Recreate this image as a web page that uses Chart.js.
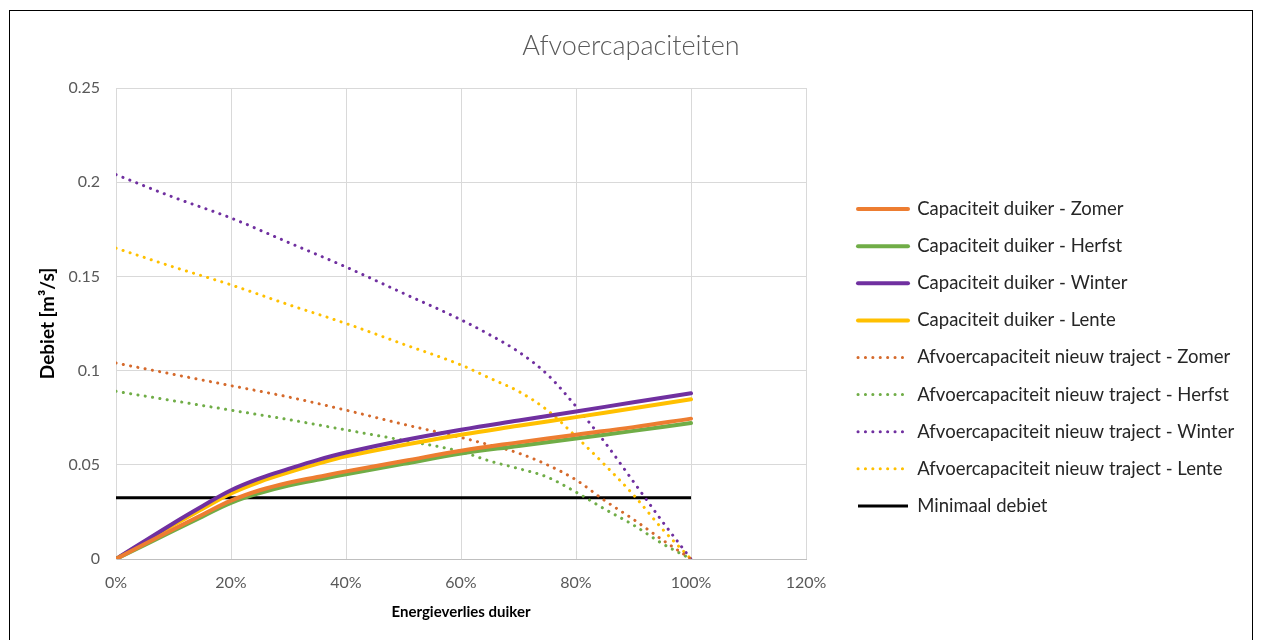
<!DOCTYPE html>
<html>
<head>
<meta charset="utf-8">
<script src="https://cdn.jsdelivr.net/npm/chart.js@4.4.0/dist/chart.umd.min.js"></script>
<style>
  html, body { margin: 0; padding: 0; background: #ffffff; }
  #frame {
    position: absolute;
    left: 9px;
    top: 10px;
    border: 1px solid #000000;
    width: 1242px;
    height: 640px;
  }
  canvas { display: block; }
</style>
</head>
<body>
<div id="frame">
  <canvas id="chart" width="1242" height="630"></canvas>
</div>
<script>
// Energieverlies duiker (%) for the culvert capacity curves
const lossCapacity = [0, 10, 15, 20, 25, 30, 35, 40, 50, 60, 70, 80, 90, 100];
const capZomer  = [0, 0.0158, 0.0235, 0.031, 0.0365, 0.0405, 0.0435, 0.0465, 0.052, 0.0575, 0.0619, 0.066, 0.070, 0.0745];
const capHerfst = [0, 0.015, 0.0225, 0.0298, 0.035, 0.039, 0.042, 0.045, 0.0505, 0.056, 0.060, 0.064, 0.068, 0.0722];
const capWinter = [0, 0.019, 0.028, 0.0365, 0.0428, 0.0478, 0.0525, 0.0565, 0.063, 0.0686, 0.0735, 0.0783, 0.0832, 0.088];
const capLente  = [0, 0.018, 0.0265, 0.0348, 0.041, 0.046, 0.0505, 0.0545, 0.0605, 0.066, 0.0707, 0.0753, 0.080, 0.0848];

// Energieverlies (%) for the new trajectory discharge curves
const lossTraject = [0, 10, 20, 30, 40, 50, 60, 65, 70, 75, 80, 85, 90, 95, 100];
const trajZomer  = [0.104, 0.098, 0.092, 0.086, 0.079, 0.0715, 0.0645, 0.0605, 0.0562, 0.050, 0.042, 0.031, 0.021, 0.0102, 0];
const trajHerfst = [0.089, 0.084, 0.079, 0.074, 0.0685, 0.063, 0.057, 0.052, 0.048, 0.0435, 0.0355, 0.0265, 0.018, 0.0082, 0];
const trajWinter = [0.204, 0.192, 0.181, 0.168, 0.155, 0.141, 0.127, 0.119, 0.110, 0.098, 0.081, 0.062, 0.041, 0.020, 0];
const trajLente  = [0.165, 0.155, 0.1455, 0.135, 0.125, 0.114, 0.103, 0.096, 0.089, 0.079, 0.065, 0.050, 0.034, 0.016, 0];

const lossMinimum = [0, 100];
const minDebiet = [0.0325, 0.0325];

const xTicks = [0, 20, 40, 60, 80, 100, 120];
const yTicks = [0, 0.05, 0.1, 0.15, 0.2, 0.25];

const FONT = 'Lato, "Liberation Sans", sans-serif';
const GREY = '#595959';

function points(xs, ys) {
    return xs.map((x, i) => ({ x: x, y: ys[i] }));
}

function solid(label, xs, ys, color) {
    return {
        label: label,
        data: points(xs, ys),
        borderColor: color,
        backgroundColor: color,
        borderWidth: 4,
        borderCapStyle: 'round',
        pointRadius: 0,
        tension: 0.4,
        fill: false
    };
}

function dotted(label, xs, ys, color) {
    return {
        label: label,
        data: points(xs, ys),
        borderColor: color,
        backgroundColor: color,
        borderWidth: 3,
        borderCapStyle: 'round',
        borderDash: [0.1, 7.3],
        pointRadius: 0,
        cubicInterpolationMode: 'monotone',
        fill: false
    };
}

// Fixes the legend block so the plot area and legend sit where the original has them
const legendPlacement = {
    id: 'legendPlacement',
    beforeLayout(chart) {
        const lg = chart.legend;
        if (lg && !lg._fixedFit) {
            const fit = lg.fit.bind(lg);
            lg.fit = function () {
                fit();
                this.width = 1242 - 796;
            };
            lg._fixedFit = true;
        }
    },
    afterLayout(chart) {
        const lg = chart.legend;
        if (!lg) return;
        lg.left = 829.4;
        lg.top = 111;
        lg.bottom = 582;
    }
};

const canvas = document.getElementById('chart');
canvas.chart = new Chart(canvas, {
    type: 'line',
    data: {
        datasets: [
            solid('Capaciteit duiker - Zomer', lossCapacity, capZomer, '#ED7D31'),
            solid('Capaciteit duiker - Herfst', lossCapacity, capHerfst, '#70AD47'),
            solid('Capaciteit duiker - Winter', lossCapacity, capWinter, '#7030A0'),
            solid('Capaciteit duiker - Lente', lossCapacity, capLente, '#FFC000'),
            dotted('Afvoercapaciteit nieuw traject - Zomer', lossTraject, trajZomer, '#D56A2C'),
            dotted('Afvoercapaciteit nieuw traject - Herfst', lossTraject, trajHerfst, '#70AD47'),
            dotted('Afvoercapaciteit nieuw traject - Winter', lossTraject, trajWinter, '#7030A0'),
            dotted('Afvoercapaciteit nieuw traject - Lente', lossTraject, trajLente, '#FFC000'),
            {
                label: 'Minimaal debiet',
                data: points(lossMinimum, minDebiet),
                borderColor: '#000000',
                backgroundColor: '#000000',
                borderWidth: 3,
                pointRadius: 0,
                fill: false
            }
        ]
    },
    options: {
        responsive: false,
        animation: false,
        layout: { padding: 0 },
        plugins: {
            title: {
                display: true,
                text: 'Afvoercapaciteiten',
                color: GREY,
                font: { family: FONT, size: 27, weight: '300' },
                padding: { top: 19, bottom: 25.6 }
            },
            legend: {
                display: true,
                position: 'right',
                labels: {
                    usePointStyle: true,
                    pointStyle: 'line',
                    pointStyleWidth: 50,
                    padding: 18.6,
                    color: '#262626',
                    font: { family: FONT, size: 18.5 },
                    generateLabels(chart) {
                        const items = Chart.defaults.plugins.legend.labels.generateLabels(chart);
                        items.forEach(item => {
                            const ds = chart.data.datasets[item.datasetIndex];
                            item.lineDash = ds.borderDash || [];
                            item.lineCap = ds.borderCapStyle || 'butt';
                            item.lineWidth = ds.borderWidth;
                            item.strokeStyle = ds.borderColor;
                        });
                        return items;
                    }
                }
            },
            tooltip: { enabled: false }
        },
        scales: {
            x: {
                type: 'linear',
                min: 0,
                max: 120,
                afterBuildTicks: scale => { scale.ticks = xTicks.map(v => ({ value: v })); },
                afterFit: scale => { scale.height = 630 - 548; },
                grid: { color: '#d9d9d9', lineWidth: 1, drawTicks: false },
                border: { color: '#bfbfbf', width: 1 },
                ticks: {
                    color: GREY,
                    padding: 14,
                    font: { family: FONT, size: 16 },
                    callback: v => v + '%'
                },
                title: {
                    display: true,
                    text: 'Energieverlies duiker',
                    color: '#000000',
                    font: { family: FONT, size: 15, weight: 'bold' },
                    padding: { top: 0, bottom: 20 }
                }
            },
            y: {
                type: 'linear',
                min: 0,
                max: 0.25,
                afterBuildTicks: scale => { scale.ticks = yTicks.map(v => ({ value: v })); },
                afterFit: scale => { scale.width = 106; },
                grid: { color: '#d9d9d9', lineWidth: 1, drawTicks: false },
                border: { color: '#d9d9d9', width: 1 },
                ticks: {
                    color: GREY,
                    padding: 16,
                    font: { family: FONT, size: 16 },
                    callback: v => String(+v.toFixed(2))
                },
                title: {
                    display: true,
                    text: 'Debiet [m³/s]',
                    color: '#000000',
                    font: { family: FONT, size: 19, weight: 'bold' },
                    padding: { top: 26, bottom: 0 }
                }
            }
        }
    },
    plugins: [legendPlacement]
});
</script>
</body>
</html>
